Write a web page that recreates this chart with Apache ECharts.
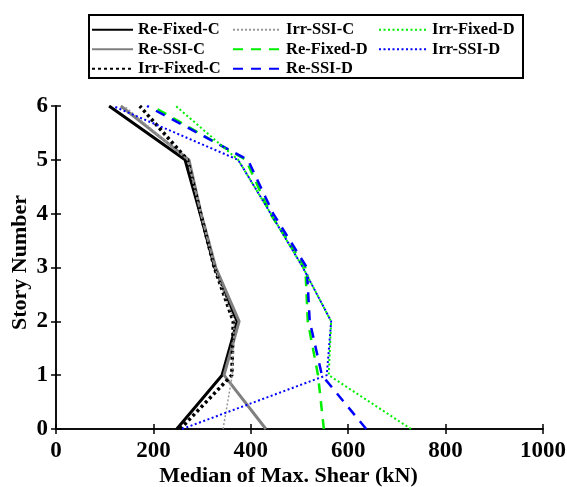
<!DOCTYPE html>
<html><head><meta charset="utf-8">
<script src="https://cdn.jsdelivr.net/npm/echarts@6/dist/echarts.min.js"></script>
<style>html,body{margin:0;padding:0;background:#fff}#c{width:567px;height:487px}</style>
</head><body><div id="c"></div>
<script>
const stories = [0, 1, 2, 3, 4, 5, 6];
const reFixedC  = [248, 341, 372, 326, 296, 265, 109];
const reSSIC    = [431, 345, 376, 328, 298, 273, 133];
const irrFixedC = [255, 361, 364, 325, 297, 270, 172];
const irrSSIC   = [343, 362, 366, 326, 297, 270, 140];
const reFixedD  = [550, 538, 517, 512, 440, 390, 197];
const reSSID    = [637, 546, 521, 515, 446, 394, 187];
const irrFixedD = [729, 560, 565, 507, 441, 374, 246];
const irrSSID   = [259, 556, 565, 507, 441, 374, 117];
const xTicks = [0, 200, 400, 600, 800, 1000];

const F = '"Liberation Serif","Times New Roman",serif';
function pts(v){ return v.map((x,i)=>[x, stories[i]]); }
function S(name, data, color, width, type){
  return {name, type:'line', data:pts(data), symbol:'none', showSymbol:false,
    lineStyle:{color, width, type}, itemStyle:{color}, z: 3, animation:false};
}
const series = [
  S('Re-Fixed-C', reFixedC, '#000000', 3, 'solid'),
  S('Re-SSI-C', reSSIC, '#808080', 3, 'solid'),
  S('Irr-Fixed-C', irrFixedC, '#000000', 3.5, [3,3]),
  S('Irr-SSI-C', irrSSIC, '#999999', 1.5, [2,2]),
  S('Re-Fixed-D', reFixedD, '#00ee00', 2.5, [10,8]),
  S('Re-SSI-D', reSSID, '#0000ff', 2.5, [10,8]),
  S('Irr-Fixed-D', irrFixedD, '#00ee00', 2, [2,2.5]),
  S('Irr-SSI-D', irrSSID, '#0000ff', 2, [2,2.5])
];
const legTxt = {fontFamily:F, fontWeight:'bold', fontSize:16.5, color:'#000', lineHeight:19.5};
function leg(left, w, names){
  return {orient:'vertical', left, top:20, itemWidth:w, itemHeight:10, itemGap:0,
    itemStyle:{opacity:0}, data:names, textStyle:legTxt, selectedMode:false, padding:0};
}
const axLine = {show:true, lineStyle:{color:'#000', width:1.5}};
const tick = {inside:true, length:5, lineStyle:{color:'#000', width:1.5}};
const chart = echarts.init(document.getElementById('c'), null, {renderer:'canvas'});
chart.setOption({
  animation:false,
  backgroundColor:'#fff',
  graphic:[{type:'rect', shape:{x:89, y:15, width:434, height:63}, style:{fill:null, stroke:'#000', lineWidth:2}, z:10}],
  legend:[
    leg(91, 41, ['Re-Fixed-C','Re-SSI-C','Irr-Fixed-C']),
    leg(232, 48, ['Irr-SSI-C','Re-Fixed-D','Re-SSI-D']),
    leg(378, 48, ['Irr-Fixed-D','Irr-SSI-D'])
  ],
  grid:{left:56, right:24, top:106, bottom:58, containLabel:false, outerBoundsMode:'none'},
  xAxis:[{type:'value', min:0, max:1000, interval:200, position:'bottom',
    name:'Median of Max. Shear (kN)', nameLocation:'middle', nameGap:36, nameMoveOverlap:false,
    nameTextStyle:{fontFamily:F, fontWeight:'bold', fontSize:22, color:'#000', padding:[0,22,0,0]},
    axisLine:axLine, axisTick:tick,
    axisLabel:{fontFamily:F, fontWeight:'bold', fontSize:23, color:'#000', margin:11,
      formatter:v=>xTicks.includes(v)?String(v):''},
    splitLine:{show:false}},
   {type:'value', min:0, max:1000, interval:200, position:'top',
    axisLine:axLine, axisTick:tick, axisLabel:{show:false}, splitLine:{show:false}}],
  yAxis:[{type:'value', min:0, max:6, interval:1, position:'left',
    name:'Story Number', nameLocation:'middle', nameGap:25, nameRotate:90, nameMoveOverlap:false,
    nameTextStyle:{fontFamily:F, fontWeight:'bold', fontSize:22, color:'#000', padding:[0,0,0,10]},
    axisLine:axLine, axisTick:tick,
    axisLabel:{fontFamily:F, fontWeight:'bold', fontSize:23, color:'#000', margin:8},
    splitLine:{show:false}},
   {type:'value', min:0, max:6, interval:1, position:'right',
    axisLine:axLine, axisTick:tick, axisLabel:{show:false}, splitLine:{show:false}}],
  series
});
</script></body></html>
